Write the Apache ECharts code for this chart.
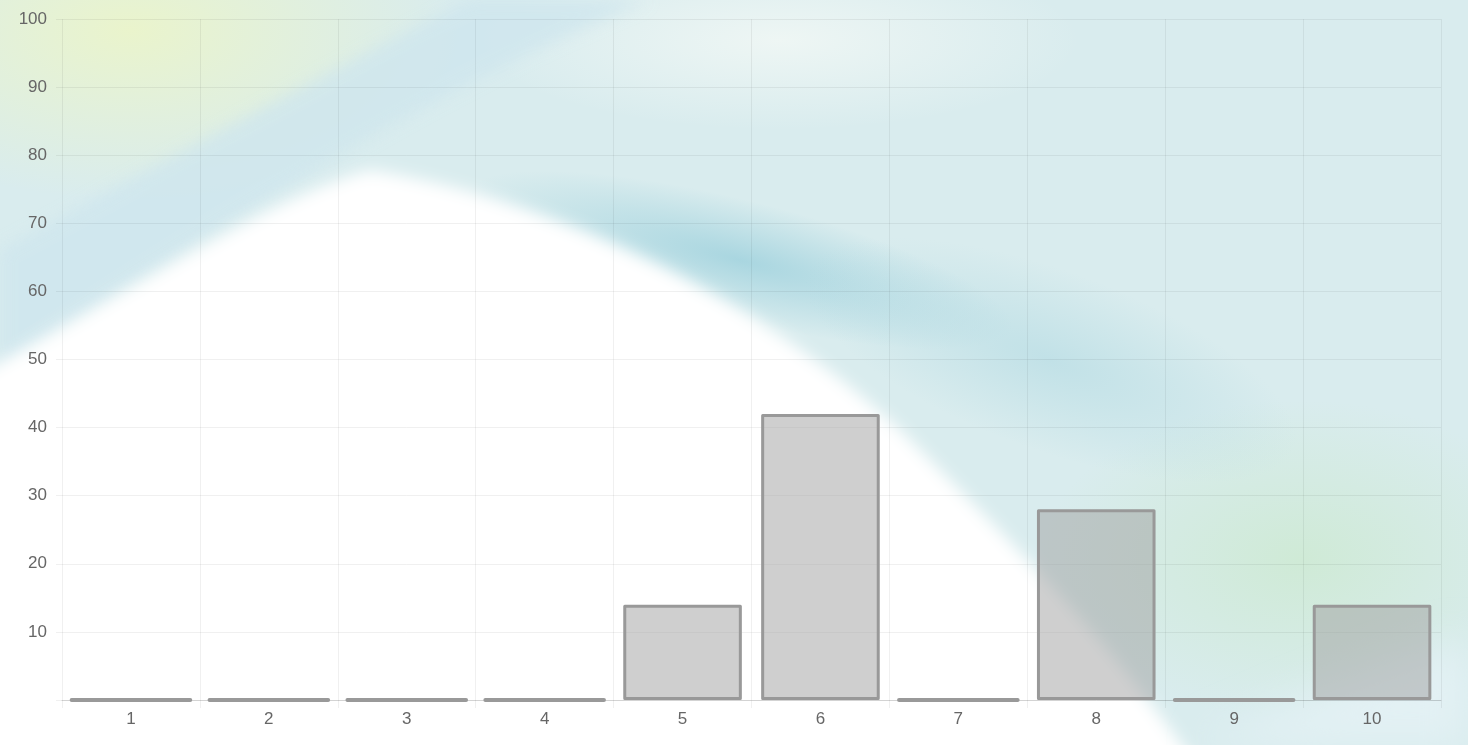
<!DOCTYPE html>
<html>
<head>
<meta charset="utf-8">
<script src="https://cdn.jsdelivr.net/npm/echarts@6/dist/echarts.min.js"></script>
<style>
html,body{margin:0;padding:0;width:1468px;height:745px;overflow:hidden;background:#fff;}
#bg{position:absolute;left:0;top:0;width:1468px;height:745px;}
#chart{position:absolute;left:0;top:0;width:1468px;height:745px;}
</style>
</head>
<body>
<svg id="bg" width="1468" height="745" viewBox="0 0 1468 745" xmlns="http://www.w3.org/2000/svg">
  <defs>
    <filter id="b20" x="-50%" y="-50%" width="200%" height="200%"><feGaussianBlur stdDeviation="20"/></filter>
    <filter id="b8" x="-50%" y="-50%" width="200%" height="200%"><feGaussianBlur stdDeviation="8"/></filter>
    <radialGradient id="yg" cx="0.5" cy="0.5" r="0.5"><stop offset="0" stop-color="#eaf4cc"/><stop offset="1" stop-color="#eaf4cc" stop-opacity="0"/></radialGradient>
    <radialGradient id="gr" cx="0.5" cy="0.5" r="0.5"><stop offset="0" stop-color="#cfead6"/><stop offset="1" stop-color="#cfead6" stop-opacity="0"/></radialGradient>
    <radialGradient id="tl" cx="0.5" cy="0.5" r="0.5"><stop offset="0" stop-color="#a9d6e0"/><stop offset="1" stop-color="#a9d6e0" stop-opacity="0"/></radialGradient>
    <radialGradient id="lt" cx="0.5" cy="0.5" r="0.5"><stop offset="0" stop-color="#eef6f4"/><stop offset="1" stop-color="#eef6f4" stop-opacity="0"/></radialGradient>
  </defs>
  <rect x="0" y="0" width="1468" height="745" fill="#d9ecee"/>
  <ellipse cx="130" cy="30" rx="330" ry="170" fill="url(#yg)"/>
  <ellipse cx="780" cy="40" rx="300" ry="90" fill="url(#lt)"/>
  <ellipse cx="1300" cy="560" rx="260" ry="160" fill="url(#gr)"/>
  <ellipse cx="740" cy="260" rx="280" ry="60" fill="url(#tl)" transform="rotate(14 740 260)"/>
  <ellipse cx="1050" cy="360" rx="260" ry="90" fill="url(#tl)" opacity="0.5" transform="rotate(20 1050 360)"/>
  <path d="M0,250 C150,170 350,60 470,0 L650,0 C500,60 330,150 0,370 Z" fill="#cfe6ee" opacity="0.8" filter="url(#b8)"/>
  <path d="M-60,395 C120,300 260,200 370,170 C560,200 760,300 900,430 C1020,550 1120,650 1220,800 L-60,800 Z" fill="#ffffff" filter="url(#b8)"/>
  <path d="M1200,745 C1300,700 1400,660 1468,640 L1468,745 Z" fill="#e3f1f4" filter="url(#b20)"/>
</svg>
<div id="chart"></div>
<script>
const categories = ['1','2','3','4','5','6','7','8','9','10'];
const values = [0, 0, 0, 0, 14, 42, 0, 28, 0, 14];
const yTicks = [0, 10, 20, 30, 40, 50, 60, 70, 80, 90, 100];

const chart = echarts.init(document.getElementById('chart'), null, {renderer: 'canvas'});
const labelFont = 'Liberation Sans, Arial, sans-serif';
chart.setOption({
  backgroundColor: 'transparent',
  animation: false,
  grid: {left: 62, right: 27, top: 19, bottom: 45, containLabel: false},
  xAxis: {
    type: 'category',
    data: categories,
    boundaryGap: true,
    axisLine: {show: true, lineStyle: {color: 'rgba(0,0,0,0.12)', width: 1}},
    axisTick: {show: true, length: 8, lineStyle: {color: 'rgba(0,0,0,0.06)'}},
    splitLine: {show: true, lineStyle: {color: 'rgba(0,0,0,0.06)', width: 1}},
    axisLabel: {color: '#666', fontSize: 17, fontFamily: labelFont, margin: 11}
  },
  yAxis: {
    type: 'value',
    min: yTicks[0],
    max: yTicks[yTicks.length - 1],
    interval: 10,
    axisLine: {show: false},
    axisTick: {show: true, length: 6, lineStyle: {color: 'rgba(0,0,0,0.06)'}},
    splitLine: {show: true, lineStyle: {color: 'rgba(0,0,0,0.06)', width: 1}},
    axisLabel: {
      color: '#666', fontSize: 17, fontFamily: labelFont, margin: 15,
      formatter: v => (v === 0 ? '' : String(v))
    }
  },
  series: [{
    type: 'bar',
    data: values.map(v => ({value: v, itemStyle: {borderWidth: v === 0 ? 4 : 3}})),
    barCategoryGap: '14%',
    itemStyle: {
      color: 'rgba(160,160,160,0.5)',
      borderColor: '#999',
      borderWidth: 3,
      borderCap: 'round',
      borderJoin: 'round'
    }
  }]
});
</script>
</body>
</html>
